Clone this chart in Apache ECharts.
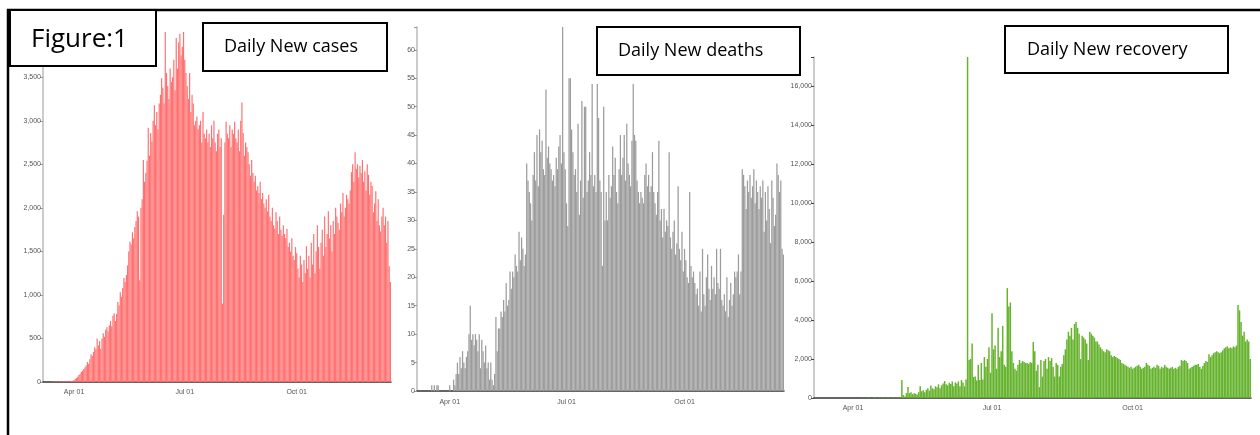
<!DOCTYPE html>
<html>
<head>
<meta charset="utf-8">
<script src="https://cdn.jsdelivr.net/npm/echarts@6/dist/echarts.min.js"></script>
<style>
  html, body { margin: 0; padding: 0; background: #fff; }
  #chart { width: 1260px; height: 435px; }
</style>
</head>
<body>
<div id="chart"></div>
<script>
// daily values 2020-03-07 .. 2020-12-17, one array per month
var casesMar = [0,0,0,0,0,0,0,2,5,3,8,10,4,6,9,7,12,5,8,10,6,9,14,11,15]
var casesApr = [20,35,45,60,80,95,115,130,150,170,190,230,210,260,320,300,345,400,380,500,420,470,380,500,560,520,600,630,580,650]
var casesMay = [700,640,760,790,700,780,920,880,1030,980,1080,1195,1150,1230,1340,1500,1610,1580,1720,1650,1780,1850,1960,1900,1170,2000,2100,2550,2300,2400,2540]
var casesJun = [2920,2600,2860,2760,3000,3180,2950,3100,2900,3200,3300,3490,3380,3200,4020,3550,3400,3250,3600,3450,3500,3700,3350,3950,3600,3900,4000,3750,3850,4020]
var casesJul = [3700,3550,3400,3250,3550,3100,3300,3200,2950,3000,3050,2900,2950,3000,2750,3100,2850,2800,2900,2750,2850,2700,2950,2800,3000,2750,2650,2850,2900,2700,2800]
var casesAug = [900,1920,2750,2990,2850,2800,2950,2700,2900,2850,2990,2800,2750,2900,2650,3000,3210,2860,2600,2750,2700,2640,2500,2370,2550,2400,2300,2370,2200,2250,2170]
var casesSep = [2300,2100,2170,2050,2000,2100,1960,2150,1900,1850,2000,1800,1760,1950,1850,1700,1900,1750,1680,1800,1700,1650,1760,1550,1600,1500,1650,1450,1400,1550]
var casesOct = [1480,1300,1200,1450,1350,1150,1400,1250,1560,1300,1450,1200,1600,1350,1700,1250,1500,1800,1550,1300,1600,1750,1450,1900,1550,1700,1960,1650,1800,1500,1850]
var casesNov = [1700,2000,1900,1830,1750,2050,1950,2170,1900,2000,2150,2100,2050,2200,2410,2500,2300,2640,2450,2500,2350,2480,2400,2550,2300,2420,2200,2500,2380,2150]
var casesDec = [2300,2250,1950,2050,2190,1850,2100,1800,1730,1900,2000,1800,1900,1600,1850,1330,1150]

var deathsMar = [0,0,0,0,0,0,0,0,0,0,0,1,0,1,0,1,1,0,0,0,0,0,0,0,0]
var deathsApr = [1,0,0,2,1,3,5,3,6,4,7,5,4,6,7,10,15,9,10,8,10,9,7,10,4,9,7,5,8,4]
var deathsMay = [5,2,5,2,1,3,13,7,11,11,14,13,16,14,19,15,16,21,18,21,20,24,22,21,28,23,27,25,22,24,40]
var deathsJun = [37,35,33,30,38,42,37,45,36,46,42,44,39,38,53,41,43,40,39,37,38,36,41,39,43,45,40,64,42,39]
var deathsJul = [33,29,55,55,46,42,38,39,35,47,31,37,51,34,50,50,35,37,42,38,54,36,38,35,54,48,37,35,22,50,30]
var deathsAug = [35,30,38,34,36,43,38,41,35,33,39,45,38,41,45,37,47,40,38,36,44,54,45,44,37,35,33,35,34,33,38]
var deathsSep = [40,36,38,35,36,42,35,33,31,35,44,30,32,27,32,28,30,29,42,27,25,28,30,24,26,36,25,23,28,21]
var deathsOct = [25,23,20,19,35,22,20,21,19,17,18,15,21,14,25,17,15,20,24,18,16,22,18,20,17,25,19,18,25,16,15]
var deathsNov = [17,14,20,13,16,19,15,17,21,20,21,24,17,21,39,38,36,32,37,35,38,34,36,39,33,37,35,32,36,34]
var deathsDec = [37,28,35,30,36,32,26,37,34,29,31,40,38,35,37,25,24]

var recMar = [0,0,0,0,0,0,0,0,0,0,0,0,0,0,0,0,0,0,0,0,0,0,0,0,0]
var recApr = [0,0,0,0,0,10,0,15,5,0,20,10,0,15,25,10,0,20,15,10,30,0,20,25,15,10,30,20,15,25]
var recMay = [20,30,920,150,80,250,560,250,300,200,250,220,180,300,600,350,400,300,420,500,380,640,500,450,600,550,700,500,650,750,870]
var recJun = [700,650,780,720,850,600,800,750,850,600,920,800,600,950,17500,1950,2000,2800,1080,1100,900,1700,920,1800,950,2100,1600,2000,2600,1300]
var recJul = [4350,2500,2700,1500,3600,2100,2400,3700,1700,1600,5640,4700,4900,2400,1800,1500,1400,1700,1950,1800,1900,1850,1800,1800,1750,1850,1800,2870,2400,1400,1700]
var recAug = [560,1950,1100,1900,2000,1500,2100,1900,2050,1600,1100,1800,1700,1100,1600,1750,2200,2500,3000,3400,3200,3600,3000,3800,3900,3600,3300,2000,3200,3100,3000]
var recSep = [2800,1950,3400,3300,3200,3100,2900,2900,2750,2600,2500,2400,2350,2500,2450,2400,2200,2100,2150,2100,2050,2000,1950,1800,1750,1700,1650,1600,1550,1600]
var recOct = [1500,1550,1600,1650,1700,1600,1500,1550,1600,1800,1700,1650,1500,1550,1600,1550,1700,1650,1500,1600,1550,1700,1600,1550,1500,1550,1600,1500,1550,1500,1600]
var recNov = [1650,1950,1900,1950,1900,1800,1500,1550,1600,1650,1700,1700,1750,1600,1500,1650,1800,1900,1850,2250,2100,2200,2300,2350,2400,2350,2300,2350,2450,2550]
var recDec = [2600,2650,2550,2600,2550,2650,2600,2700,4770,4500,3900,3200,3400,2900,3000,2900,2000]

var tickDates = ['2020-04-01', '2020-07-01', '2020-10-01']
var tickLabels = ['Apr 01', 'Jul 01', 'Oct 01']

var cases = [].concat(casesMar, casesApr, casesMay, casesJun, casesJul, casesAug, casesSep, casesOct, casesNov, casesDec)
var deaths = [].concat(deathsMar, deathsApr, deathsMay, deathsJun, deathsJul, deathsAug, deathsSep, deathsOct, deathsNov, deathsDec)
var recovered = [].concat(recMar, recApr, recMay, recJun, recJul, recAug, recSep, recOct, recNov, recDec)

var days = []
var d = new Date(Date.UTC(2020, 2, 7))
for (var i = 0; i < cases.length; i++) {
  days.push(d.toISOString().slice(0, 10))
  d.setUTCDate(d.getUTCDate() + 1)
}

var tickFont = "'Liberation Sans Narrow', 'Liberation Sans', Arial, sans-serif"

function xAxisFor(idx, margin) {
  return {
    type: 'category', gridIndex: idx, data: days,
    axisLine: { lineStyle: { color: '#333', width: 1.5 } },
    axisTick: {
      length: 4, lineStyle: { color: '#333' },
      interval: function (i, v) { return i === 0 || tickDates.indexOf(v) >= 0 }
    },
    axisLabel: {
      interval: function (i, v) { return tickDates.indexOf(v) >= 0 },
      formatter: function (v) { return tickLabels[tickDates.indexOf(v)] },
      fontSize: 7, color: '#555', margin: margin, fontFamily: tickFont
    },
    splitLine: { show: false }
  }
}

function yAxisFor(idx, step, tickColor) {
  return {
    type: 'value', gridIndex: idx, min: 0, max: 'dataMax', interval: step,
    axisLine: { show: true, lineStyle: { color: '#bbb', width: 1.5 } },
    axisTick: { show: true, length: 3, lineStyle: { color: tickColor } },
    axisLabel: {
      fontSize: 7, color: '#555', margin: 2, fontFamily: tickFont,
      formatter: function (v) { return v % step ? '' : v.toLocaleString('en-US') }
    },
    splitLine: { show: false }
  }
}

function barSeries(idx, data, color) {
  return {
    type: 'bar', xAxisIndex: idx, yAxisIndex: idx, data: data,
    barCategoryGap: '3%', silent: true,
    itemStyle: { color: color }
  }
}

function titleBox(x, y, w, h, text, size, tx, ty) {
  return [
    { type: 'rect', z: 100, shape: { x: x, y: y, width: w, height: h },
      style: { fill: '#fff', stroke: '#000', lineWidth: 2 } },
    { type: 'text', z: 101, x: tx, y: ty,
      style: { text: text, font: size + "px 'Open Sans'", fill: '#000',
               align: 'left', verticalAlign: 'middle', textAlign: 'left', textVerticalAlign: 'middle' } }
  ]
}

var chart = echarts.init(document.getElementById('chart'))

var option = {
  animation: false,
  backgroundColor: '#fff',
  grid: [
    { left: 43, top: 32, width: 348, height: 350, outerBoundsMode: 'none' },
    { left: 417, top: 27, width: 367, height: 364, outerBoundsMode: 'none' },
    { left: 814, top: 57, width: 437, height: 341, outerBoundsMode: 'none' }
  ],
  xAxis: [xAxisFor(0, 7), xAxisFor(1, 8), xAxisFor(2, 7)],
  yAxis: [yAxisFor(0, 500, '#999'), yAxisFor(1, 5, '#999'), yAxisFor(2, 2000, '#444')],
  series: [
    barSeries(0, cases, '#ff7070'),
    barSeries(1, deaths, '#9c9c9c'),
    barSeries(2, recovered, '#66b32e')
  ],
  graphic: [
    { type: 'line', z: 100, shape: { x1: 7, y1: 10, x2: 1260, y2: 10 }, style: { stroke: '#000', lineWidth: 2.5 } },
    { type: 'line', z: 100, shape: { x1: 8, y1: 9, x2: 8, y2: 435 }, style: { stroke: '#000', lineWidth: 2.5 } }
  ].concat(
    titleBox(10, 10, 146, 56, 'Figure:1', 26, 31, 40),
    titleBox(203, 23, 184, 48, 'Daily New cases', 18, 224, 47),
    titleBox(597, 27, 203, 48, 'Daily New deaths', 18, 618, 51),
    titleBox(1005, 26, 223, 47, 'Daily New recovery', 18, 1027, 50)
  )
}

chart.setOption(option)
</script>
</body>
</html>
